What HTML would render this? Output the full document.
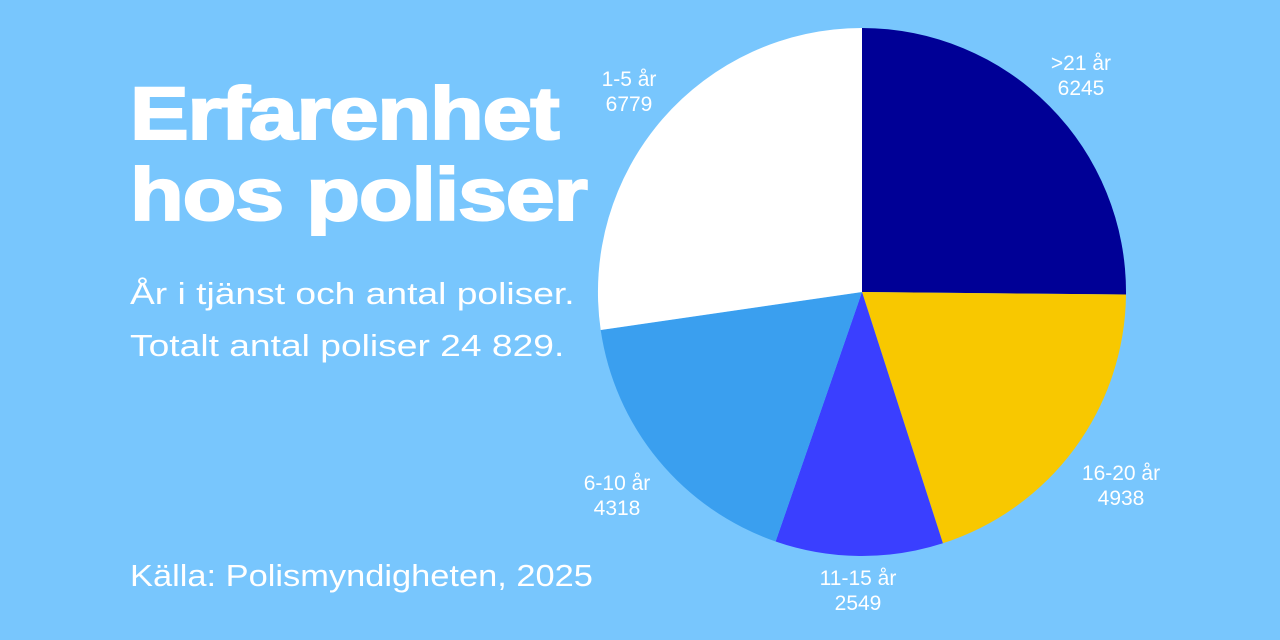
<!DOCTYPE html>
<html><head><meta charset="utf-8"><style>
html,body{margin:0;padding:0}
body{width:1280px;height:640px;background:#78C6FD;position:relative;overflow:hidden;font-family:"Liberation Sans",sans-serif;color:#fff}
.t{position:absolute;left:130px;font-weight:bold;font-size:74px;line-height:1;transform:scaleX(1.19);transform-origin:left top;letter-spacing:-1px;-webkit-text-stroke:2px #fff}
.s{position:absolute;left:130px;font-size:31px;line-height:1;transform-origin:left top}
.l{position:absolute;font-size:21px;line-height:25px;text-align:center;width:120px}
</style></head><body>
<div class="t" style="top:77px">Erfarenhet</div>
<div class="t" style="top:158px">hos poliser</div>
<div class="s" style="top:278px;transform:scaleX(1.2)">År i tjänst och antal poliser.</div>
<div class="s" style="top:330px;transform:scaleX(1.2)">Totalt antal poliser 24 829.</div>
<div class="s" style="top:560px;transform:scaleX(1.11)">Källa: Polismyndigheten, 2025</div>
<svg width="1280" height="640" style="position:absolute;left:0;top:0">
<path d="M862,292 L862,28 A264,264 0 0 1 1126,294.5 Z" fill="#000096"/>
<path d="M862,292 L1126,294.5 A264,264 0 0 1 942.9,543.3 Z" fill="#F8C800"/>
<path d="M862,292 L942.9,543.3 A264,264 0 0 1 775.6,541.5 Z" fill="#3A3FFF"/>
<path d="M862,292 L775.6,541.5 A264,264 0 0 1 600.7,330 Z" fill="#3A9FEF"/>
<path d="M862,292 L600.7,330 A264,264 0 0 1 862,28 Z" fill="#FFFFFF"/>
</svg>
<div class="l" style="left:569px;top:67px">1-5 år<br>6779</div>
<div class="l" style="left:1021px;top:51px">&gt;21 år<br>6245</div>
<div class="l" style="left:1061px;top:461px">16-20 år<br>4938</div>
<div class="l" style="left:798px;top:566px">11-15 år<br>2549</div>
<div class="l" style="left:557px;top:471px">6-10 år<br>4318</div>
</body></html>
